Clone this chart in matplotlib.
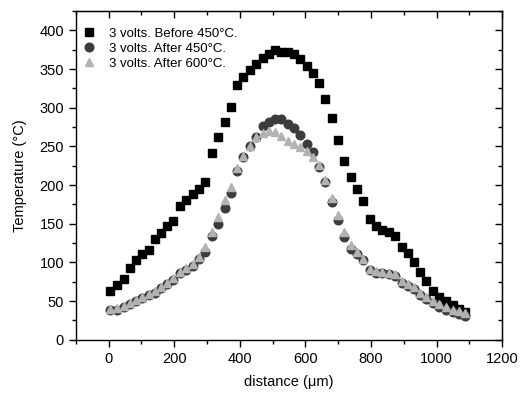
import matplotlib
matplotlib.use("Agg")
import matplotlib.pyplot as plt
from matplotlib.ticker import MultipleLocator, NullFormatter

plt.rcParams['font.family'] = ['Liberation Sans', 'DejaVu Sans']

# distance (um), same sampling for the three runs
dist = [4, 26, 47, 64, 83, 102, 123, 142, 161, 179, 197, 217, 237, 256, 275, 295,
        314, 333, 354, 373, 391, 409, 431, 450, 470, 489, 508, 527, 547, 566, 585,
        604, 624, 641, 661, 680, 700, 717, 739, 758, 776, 796, 815, 835, 854, 873,
        894, 912, 931, 951, 969, 990, 1009, 1028, 1049, 1068, 1086]

before450 = [63, 71, 79, 93, 103, 111, 116.5, 130, 138, 147, 153, 173, 181, 188,
             195.5, 204, 242, 262, 281, 301, 329, 340, 349.5, 357, 364.6, 370, 374.5,
             372.4, 372, 370, 362.5, 354, 345, 332, 312, 287, 258.5, 231.7, 211, 195,
             179, 156.6, 147.6, 142.4, 139, 133.7, 120, 112, 101, 88, 75.5, 63, 56,
             50.5, 45, 40.5, 36.6]

after450 = [38, 38, 42, 46.6, 50, 53.5, 58, 61, 67, 72, 77.7, 86, 90.6, 96, 104.5,
            114, 134.6, 150, 170.5, 190, 218, 236.5, 251, 262, 277, 282, 285.7, 285,
            279, 274, 265, 253.7, 243, 223.5, 203.6, 178, 154.4, 132.4, 117, 111,
            103.6, 90.6, 87, 86, 85.4, 83, 74, 70, 65.6, 58, 52.6, 47.5, 43, 38.8,
            35.4, 33.6, 31]

after600 = [40, 41, 44, 48, 51.5, 55, 59.5, 63, 68.5, 74, 80, 88, 92.5, 98, 107,
            120, 140, 159, 181, 198, 222, 238, 251, 262, 267.6, 269.7, 269, 263,
            256.7, 253.7, 249.4, 243.8, 237, 225.6, 207, 183, 162, 140, 123, 113,
            105, 92, 89, 88, 87, 85, 76, 72, 68, 60, 55, 50, 46, 42, 39, 37, 35]

labels = ["3 volts. Before 450°C.", "3 volts. After 450°C.", "3 volts. After 600°C."]

fig = plt.figure(figsize=(5.23, 3.97), dpi=100)
ax = fig.add_axes([0.145, 0.144, 0.815, 0.828])

ax.plot(dist, before450, 's', color='black', markersize=5.4, label=labels[0])
ax.plot(dist, after450, 'o', color='#3c3c3c', markersize=6.2, label=labels[1])
ax.plot(dist, after600, '^', color='#b2b2b2', markersize=6.2, label=labels[2])

ax.set_xlim(-100, 1200)
ax.set_ylim(0, 425)
ax.xaxis.set_major_locator(MultipleLocator(200))
ax.xaxis.set_minor_locator(MultipleLocator(100))
ax.yaxis.set_major_locator(MultipleLocator(50))
ax.yaxis.set_minor_locator(MultipleLocator(25))

ax.tick_params(which='both', direction='out', labelsize=10.5, width=1)
ax.tick_params(which='major', length=5)
ax.tick_params(which='minor', length=3)

# inward ticks on top and right
top = ax.secondary_xaxis('top')
top.xaxis.set_major_locator(MultipleLocator(200))
top.xaxis.set_minor_locator(MultipleLocator(100))
top.xaxis.set_major_formatter(NullFormatter())
right = ax.secondary_yaxis('right')
right.yaxis.set_major_locator(MultipleLocator(50))
right.yaxis.set_minor_locator(MultipleLocator(25))
right.yaxis.set_major_formatter(NullFormatter())
for sec in (top, right):
    sec.tick_params(which='both', direction='in', width=1)
    sec.tick_params(which='major', length=5)
    sec.tick_params(which='minor', length=3)

for s in ax.spines.values():
    s.set_linewidth(1)

ax.set_xlabel("distance (μm)", fontsize=10.5, labelpad=7)
ax.set_ylabel("Temperature (°C)", fontsize=10.5, labelpad=9)

ax.legend(loc='upper left', bbox_to_anchor=(0.015, 0.949), frameon=False,
          fontsize=9.5, handlelength=1.0, handletextpad=1.0, labelspacing=0.2,
          borderaxespad=0, borderpad=0)

fig.savefig("out.png", dpi=100)
